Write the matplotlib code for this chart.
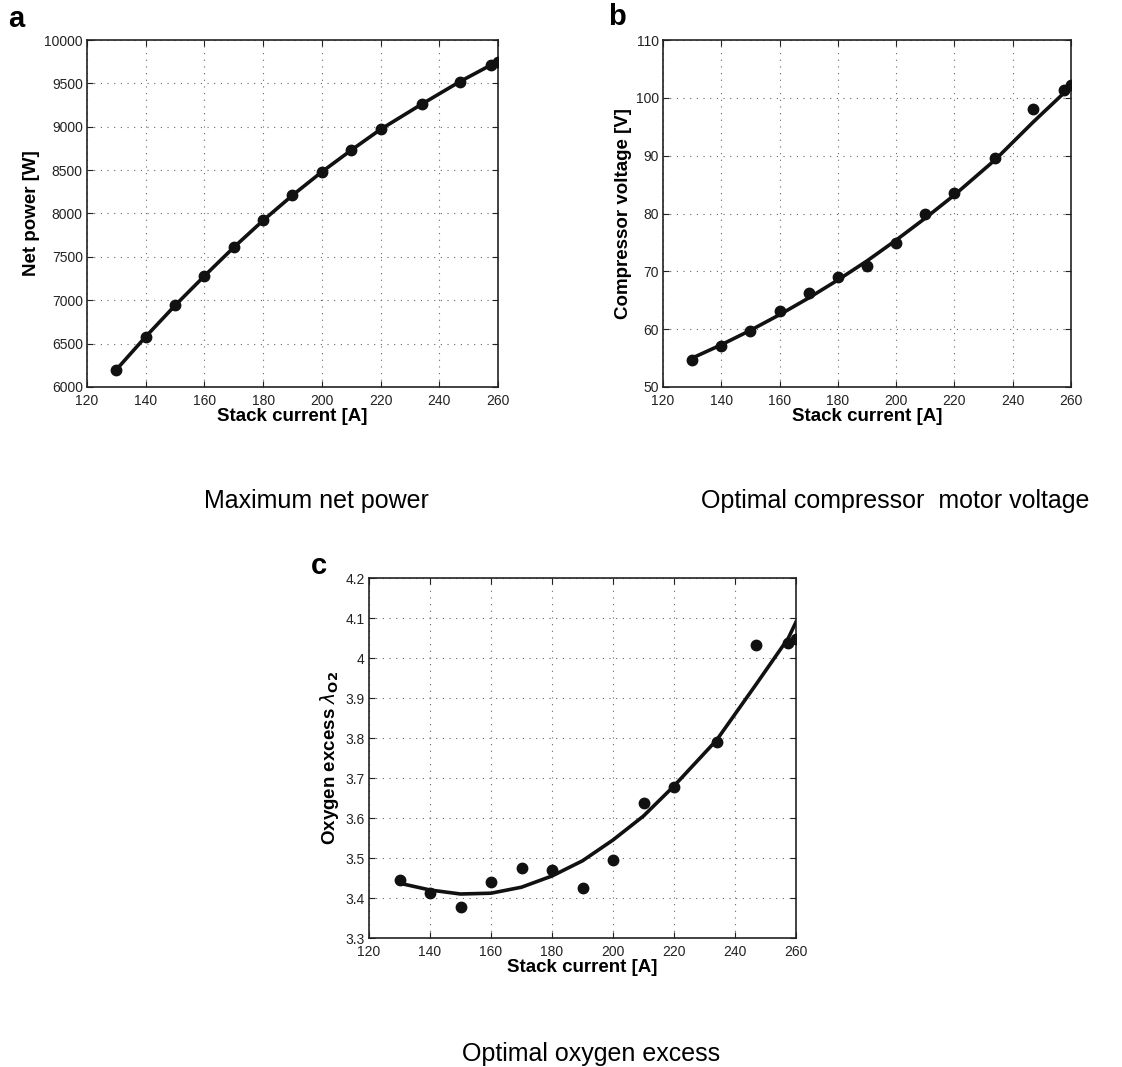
import matplotlib
matplotlib.use("Agg")
import matplotlib.pyplot as plt

plt.rcParams['font.family'] = ['Liberation Sans', 'DejaVu Sans']

# stack current samples (same for all panels)
current = [130, 140, 150, 160, 170, 180, 190, 200, 210, 220, 234, 247, 257.5, 260]

# a: maximum net power
power_pts = [6200, 6580, 6940, 7280, 7610, 7920, 8210, 8480, 8730, 8970, 9260, 9520, 9710, 9750]

# b: optimal compressor voltage (points and fitted curve)
volt_pts = [54.7, 57.1, 59.6, 63.1, 66.3, 69.0, 71.0, 74.9, 80.0, 83.5, 89.6, 98.0, 101.3, 102.3]
volt_fit = [55.0, 57.3, 59.8, 62.5, 65.4, 68.5, 71.8, 75.4, 79.2, 83.2, 89.3, 95.8, 100.8, 102.3]

# c: optimal oxygen excess (points and fitted curve)
lam_pts = [3.445, 3.412, 3.378, 3.441, 3.474, 3.471, 3.424, 3.496, 3.637, 3.677, 3.79, 4.033, 4.038, 4.048]
lam_fit = [3.437, 3.42, 3.41, 3.412, 3.427, 3.455, 3.493, 3.545, 3.605, 3.68, 3.795, 3.935, 4.05, 4.09]
lam_ticks = [3.3, 3.4, 3.5, 3.6, 3.7, 3.8, 3.9, 4.0, 4.1, 4.2]
lam_labels = ['3.3', '3.4', '3.5', '3.6', '3.7', '3.8', '3.9', '4', '4.1', '4.2']

W, H = 1122, 1067
fig = plt.figure(figsize=(W / 100, H / 100), dpi=100)


def make_ax(left, top, right, bottom):
    return fig.add_axes([left / W, 1 - bottom / H, (right - left) / W, (bottom - top) / H])


def style(ax, ylim, yticks, ylabel):
    ax.set_xlim(120, 260)
    ax.set_xticks(range(120, 261, 20))
    ax.set_ylim(*ylim)
    ax.set_yticks(yticks)
    ax.grid(True, linestyle=(0, (1, 5)), color='#666666', linewidth=0.8)
    ax.tick_params(direction='in', top=True, right=True, labelsize=10, length=4,
                   colors='#222222')
    ax.tick_params(axis='x', pad=5)
    ax.tick_params(axis='y', pad=3)
    for s in ax.spines.values():
        s.set_linewidth(1.2)
        s.set_color('#222222')
    ax.set_xlabel('Stack current [A]', fontsize=13.5, fontweight='bold', labelpad=0)
    ax.set_ylabel(ylabel, fontsize=13.5, fontweight='bold', labelpad=3)


ax1 = make_ax(87, 40, 498, 387)
ax1.plot(current, power_pts, color='#111111', lw=2.6, marker='o', ms=7.5, zorder=3)
style(ax1, (6000, 10000), range(6000, 10001, 500), 'Net power [W]')

ax2 = make_ax(663, 40, 1071, 387)
ax2.plot(current, volt_fit, color='#111111', lw=2.6, zorder=3)
ax2.plot(current, volt_pts, 'o', color='#111111', ms=7.5, zorder=4)
style(ax2, (50, 110), range(50, 111, 10), 'Compressor voltage [V]')

ax3 = make_ax(369, 578, 796, 938)
ax3.plot(current, lam_fit, color='#111111', lw=2.6, zorder=3)
ax3.plot(current, lam_pts, 'o', color='#111111', ms=7.5, zorder=4)
style(ax3, (3.3, 4.2), lam_ticks, r'Oxygen excess $\lambda_{\mathbf{O2}}$')
ax3.set_yticklabels(lam_labels)

# panel letters
fig.text(16 / W, 1 - 19 / H, 'a', fontsize=21, fontweight='bold', ha='center', va='center')
fig.text(617 / W, 1 - 17 / H, 'b', fontsize=21, fontweight='bold', ha='center', va='center')
fig.text(319 / W, 1 - 566 / H, 'c', fontsize=21, fontweight='bold', ha='center', va='center')

# captions
fig.text(316 / W, 1 - 501 / H, 'Maximum net power', fontsize=18, ha='center', va='center')
fig.text(895 / W, 1 - 501 / H, 'Optimal compressor  motor voltage', fontsize=18,
         ha='center', va='center')
fig.text(591 / W, 1 - 1054 / H, 'Optimal oxygen excess', fontsize=18, ha='center', va='center')

fig.savefig('out.png', dpi=100)
